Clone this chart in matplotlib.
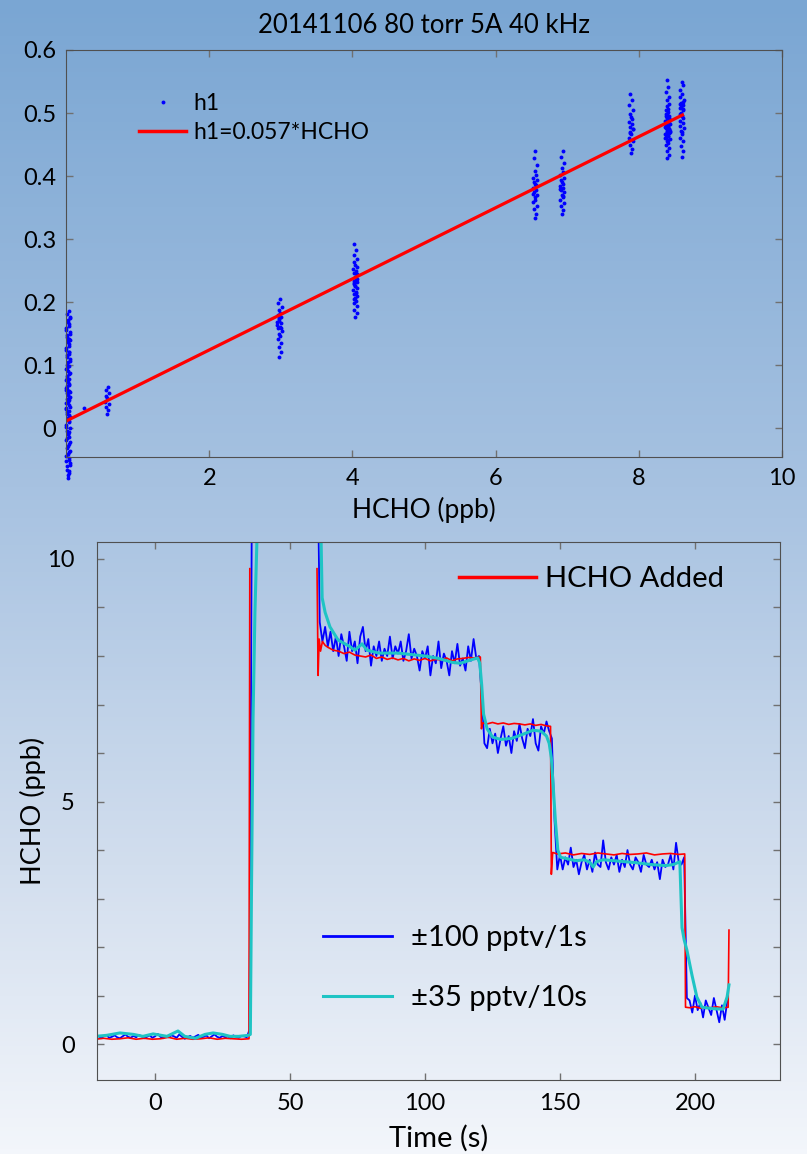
import numpy as np
import matplotlib.pyplot as plt
from matplotlib.colors import LinearSegmentedColormap
from matplotlib.lines import Line2D

plt.rcParams['font.family'] = ['Lato', 'DejaVu Sans']

# ---- top panel: h1 signal vs HCHO, clusters of points ----
jitter = [0.00, 0.03, -0.02, 0.04, -0.04, 0.01, -0.01, 0.05, -0.03, 0.02,
          -0.05, 0.03, 0.00, -0.02, 0.04, -0.04, 0.02, -0.01, 0.05, -0.03,
          0.01, -0.05, 0.03, 0.00, -0.02, 0.04, -0.03, 0.02, -0.04, 0.01]

c0_x = 0.03
c0_y = [-0.079, -0.072, -0.066, -0.058, -0.053, -0.047, -0.041, -0.036, -0.031, -0.025,
        -0.019, -0.014, -0.009, -0.004, 0.000, 0.005, 0.009, 0.014, 0.018, 0.023,
        0.027, 0.032, 0.036, 0.041, 0.046, 0.050, 0.055, 0.059, 0.064, 0.068,
        0.073, 0.078, 0.083, 0.088, 0.093, 0.099, 0.104, 0.110, 0.116, 0.121,
        0.127, 0.133, 0.139, 0.145, 0.150, 0.156, 0.162, 0.168, 0.174, 0.181,
        0.186, 0.060, 0.020, -0.010, 0.100, 0.140, 0.080, -0.050, 0.030, 0.120,
        -0.075, -0.068, -0.061, -0.055, -0.044, -0.038, -0.028, -0.022, -0.016, -0.006,
        0.002, 0.011, 0.016, 0.025, 0.034, 0.039, 0.044, 0.052, 0.057, 0.066,
        0.070, 0.076, 0.085, 0.091, 0.096, 0.107, 0.113, 0.118, 0.124, 0.130,
        0.136, 0.142, 0.148, 0.153, 0.159, 0.165, 0.171, 0.177, 0.062, 0.047]
c1_x = 0.57
c1_y = [0.022, 0.028, 0.033, 0.038, 0.042, 0.047, 0.051, 0.056, 0.061, 0.065]
c2_x = 2.98
c2_y = [0.112, 0.121, 0.128, 0.135, 0.141, 0.146, 0.150, 0.154, 0.158, 0.161,
        0.164, 0.167, 0.170, 0.173, 0.176, 0.179, 0.183, 0.187, 0.192, 0.198,
        0.205, 0.168, 0.158, 0.174]
c3_x = 4.04
c3_y = [0.176, 0.182, 0.188, 0.193, 0.198, 0.202, 0.206, 0.210, 0.213, 0.216,
        0.219, 0.222, 0.225, 0.228, 0.231, 0.234, 0.237, 0.240, 0.243, 0.246,
        0.249, 0.252, 0.255, 0.259, 0.263, 0.268, 0.274, 0.282, 0.292, 0.215,
        0.225, 0.236, 0.205, 0.245, 0.230]
c4_x = 6.55
c4_y = [0.333, 0.340, 0.347, 0.353, 0.358, 0.362, 0.366, 0.370, 0.374, 0.378,
        0.381, 0.384, 0.387, 0.390, 0.393, 0.397, 0.402, 0.408, 0.417, 0.428,
        0.440, 0.372, 0.386]
c5_x = 6.93
c5_y = [0.340, 0.346, 0.352, 0.357, 0.362, 0.366, 0.370, 0.374, 0.378, 0.381,
        0.384, 0.387, 0.390, 0.393, 0.397, 0.401, 0.406, 0.412, 0.420, 0.430,
        0.440, 0.380, 0.368]
c6_x = 7.89
c6_y = [0.436, 0.443, 0.450, 0.456, 0.461, 0.466, 0.470, 0.474, 0.478, 0.482,
        0.486, 0.490, 0.494, 0.499, 0.505, 0.512, 0.520, 0.530, 0.475, 0.468]
c7_x = 8.40
c7_y = [0.428, 0.434, 0.440, 0.445, 0.449, 0.453, 0.456, 0.459, 0.462, 0.464,
        0.466, 0.468, 0.470, 0.472, 0.474, 0.476, 0.478, 0.480, 0.482, 0.484,
        0.486, 0.488, 0.490, 0.492, 0.494, 0.496, 0.498, 0.501, 0.504, 0.507,
        0.511, 0.515, 0.520, 0.526, 0.533, 0.541, 0.553, 0.470, 0.478, 0.485,
        0.460, 0.492, 0.474, 0.466, 0.488, 0.481, 0.457, 0.499, 0.472, 0.483,
        0.463, 0.477, 0.490, 0.468, 0.486, 0.475, 0.495, 0.479]
c8_x = 8.60
c8_y = [0.430, 0.440, 0.448, 0.455, 0.461, 0.466, 0.471, 0.476, 0.480, 0.484,
        0.488, 0.492, 0.496, 0.500, 0.504, 0.508, 0.512, 0.516, 0.520, 0.525,
        0.530, 0.537, 0.545, 0.550, 0.510, 0.518, 0.498, 0.506, 0.514, 0.470]

clusters = [(c0_x, c0_y), (c1_x, c1_y), (c2_x, c2_y), (c3_x, c3_y), (c4_x, c4_y),
            (c5_x, c5_y), (c6_x, c6_y), (c7_x, c7_y), (c8_x, c8_y)]
extra_x = [0.25]
extra_y = [0.032]

fit_x = [0.0, 8.63]
fit_y = [0.011, 0.498]

# ---- bottom panel: time series ----
blue_v = [0.14, 0.17, 0.12, 0.16, 0.19, 0.13, 0.15, 0.18, 0.14, 0.12,
          0.16, 0.20, 0.15, 0.13, 0.17, 0.14, 0.19, 0.16, 0.12, 0.15,
          0.18, 0.13, 0.16, 0.21, 0.15, 0.12, 0.17, 0.14, 0.18, 0.16,
          0.13, 0.20, 0.15, 0.11, 0.14, 0.17, 0.13, 0.16, 0.19, 0.14,
          0.15, 0.18, 0.12, 0.16, 0.20, 0.15, 0.13, 0.17, 0.14, 0.16,
          0.12, 0.18, 0.15, 0.13, 0.17, 0.16, 0.14,
          0.30, 13.0] + [np.nan] * 23 + [
          13.0, 8.7,
          8.3, 8.6, 8.2, 8.5, 8.1, 8.4, 8.0, 8.45, 8.2, 7.9,
          8.5, 8.1, 8.3, 7.85, 8.4, 8.6, 8.1, 8.35, 7.8, 8.2,
          8.0, 8.3, 7.9, 8.15, 8.0, 8.4, 7.95, 8.2, 8.05, 8.3,
          7.9, 8.1, 8.45, 7.95, 8.15, 8.0, 7.7, 8.1, 7.95, 8.2,
          7.6, 8.0, 7.85, 8.3, 7.75, 8.05, 7.9, 7.6, 8.1, 7.85,
          8.25, 7.8, 7.95, 7.7, 8.2, 7.9, 8.35, 7.95, 8.0,
          7.2, 6.2,
          6.1, 6.5, 6.2, 6.4, 6.0, 6.3, 6.55, 6.15, 6.35, 6.0,
          6.45, 6.25, 6.6, 6.3, 6.1, 6.5, 6.35, 6.7, 6.2, 6.05,
          6.55, 6.4, 6.65, 6.45, 6.3,
          4.6, 3.6,
          3.9, 3.6, 3.85, 3.7, 4.05, 3.65, 3.8, 3.5, 3.75, 3.9,
          3.6, 3.8, 3.55, 3.95, 3.7, 3.65, 4.2, 3.75, 3.6, 3.85,
          3.7, 3.9, 3.55, 3.8, 3.65, 4.0, 3.7, 3.6, 3.85, 3.75,
          3.55, 3.9, 3.7, 3.65, 3.8, 3.6, 3.75, 3.4, 3.8, 3.65,
          3.7, 3.9, 3.6, 4.15, 3.75, 3.7, 3.85,
          0.95,
          0.9, 0.65, 1.0, 0.7, 0.85, 0.55, 0.9, 0.75, 0.6, 0.95,
          0.7, 0.45, 0.8, 0.5, 0.9]
blue_t = np.arange(-22, -22 + len(blue_v))

red_t = [-22, -19, -16, -13, -10, -7, -4, -1, 2, 5, 8, 11, 14, 17, 20, 23, 26, 29, 32,
         34.8, 35.1, 35.4,
         59.7, 60.0, 60.4, 60.8, 61.3, 62, 63, 64, 66, 68, 70, 72, 74, 76, 78, 80,
         82, 84, 86, 88, 90, 92, 94, 96, 98, 100, 102, 104, 106, 108, 110, 112,
         114, 116, 118, 120.5,
         120.9, 121.4, 123, 125, 127, 129, 131, 133, 135, 137, 139, 141, 143, 145, 146.5,
         146.8, 147.3, 149, 152, 155, 158, 161, 164, 167, 170, 173, 176, 179, 182,
         185, 188, 191, 194, 196.2,
         196.5, 198, 200, 202, 204, 206, 208, 210, 212.3,
         212.6]
red_v = [0.10, 0.12, 0.10, 0.11, 0.13, 0.10, 0.12, 0.10, 0.11, 0.14, 0.10, 0.12, 0.10,
         0.11, 0.13, 0.10, 0.12, 0.11, 0.10,
         0.11, 9.8, np.nan,
         np.nan, 9.8, 7.6, 8.35, 8.1, 8.3, 8.22, 8.18, 8.12, 8.1, 8.05, 8.08, 8.02,
         8.0, 7.98, 8.02, 7.95, 7.98, 7.93, 7.96, 7.92, 7.95, 7.9, 7.94, 7.91, 7.95,
         7.9, 7.93, 7.92, 7.96, 7.9, 7.94, 7.95, 7.97, 7.96, 7.98,
         6.5, 6.62, 6.6, 6.63, 6.6, 6.62, 6.59, 6.61, 6.6, 6.58, 6.6, 6.57, 6.59,
         6.56, 6.55,
         3.5, 3.95, 3.92, 3.94, 3.9, 3.93, 3.91, 3.94, 3.92, 3.9, 3.93, 3.91, 3.92,
         3.94, 3.9, 3.92, 3.93, 3.91, 3.92,
         0.76, 0.75, 0.77, 0.74, 0.76, 0.75, 0.77, 0.75, 0.76,
         2.35]

cyan_t = [-22, -18, -13, -8, -4.5, -0.7, 4.4, 8.5, 11, 15, 18.5, 21.5, 25, 27.8, 31, 34.5,
          35.3, 35.7, 36.3, 37.0, 37.8, 38.3,
          61.2, 61.5, 61.9, 63.0, 64.8, 67.8, 72, 74, 76.7, 78.5, 83, 90, 95, 100,
          105, 110, 113, 117, 119.5, 120.3, 121.0, 121.7, 123, 125, 128, 132, 136,
          140, 143, 145, 146, 146.8, 147.5, 148.3, 149.2, 150.2, 152, 156, 159,
          161, 162.3, 163.5, 166, 172, 178, 184, 189, 192, 194.4, 195.2, 196,
          197, 198.9, 200.7, 202.6, 206.7, 210.4, 211.9, 212.6]
cyan_v = [0.16, 0.18, 0.23, 0.20, 0.16, 0.21, 0.16, 0.27, 0.16, 0.12, 0.20, 0.23, 0.20, 0.16, 0.16, 0.18,
          0.20, 3.0, 6.7, 8.9, 10.5, 12.0,
          12.0, 10.4, 9.2, 8.9, 8.6, 8.33, 8.2, 8.12, 8.25, 8.12, 8.06, 8.06, 8.03, 8.0,
          7.95, 7.87, 7.85, 7.92, 7.96, 7.85, 7.4, 6.8, 6.5, 6.33, 6.28, 6.3, 6.38,
          6.47, 6.45, 6.35, 6.2, 5.9, 5.3, 4.6, 4.0, 3.85, 3.83, 3.78, 3.8,
          3.75, 3.65, 3.76, 3.8, 3.77, 3.74, 3.7, 3.68, 3.7, 3.76, 2.4, 2.15,
          1.94, 1.42, 0.97, 0.76, 0.73, 0.72, 0.97, 1.22]

# ---- figure ----
fig = plt.figure(figsize=(8.07, 11.54), dpi=100)

bg = fig.add_axes([0, 0, 1, 1], zorder=-10)
grad_cmap = LinearSegmentedColormap.from_list(
    'bg', [(0.0, '#7aa6d3'), (0.45, '#aac4e2'), (0.75, '#d2deee'), (1.0, '#f3f6fb')])
bg.imshow(np.linspace(0, 1, 256)[:, None], aspect='auto', cmap=grad_cmap,
          extent=[0, 1, 0, 1], origin='upper')
bg.axis('off')

spine_col = '#505050'
tick_col = '#707070'

# top
ax1 = fig.add_axes([66 / 807, 1 - 457 / 1154, 716 / 807, 407 / 1154])
ax1.set_facecolor('none')
for x0, ys in clusters:
    xs = [x0 + 0.6 * jitter[i % len(jitter)] for i in range(len(ys))]
    ax1.plot(xs, ys, 'o', color='#0000ff', ms=2.8, mew=0, clip_on=False)
ax1.plot(extra_x, extra_y, 'o', color='#0000ff', ms=2.8, mew=0)
ax1.plot(fit_x, fit_y, color='#ff0000', lw=2.3, solid_capstyle='butt')
ax1.set_xlim(0, 10)
ax1.set_ylim(-0.046, 0.6)
ax1.set_xticks([2, 4, 6, 8, 10])
ax1.set_yticks([0, 0.1, 0.2, 0.3, 0.4, 0.5, 0.6])
ax1.set_yticklabels(['0', '0.1', '0.2', '0.3', '0.4', '0.5', '0.6'])
ax1.tick_params(direction='in', length=5, width=1, color=tick_col, top=True, right=True,
                labelsize=17)
ax1.tick_params(axis='y', pad=7)
ax1.tick_params(axis='x', pad=8)
for s in ax1.spines.values():
    s.set_color(spine_col)
ax1.set_xlabel('HCHO (ppb)', fontsize=19)
ax1.xaxis.set_label_coords(0.5, -0.098)
ax1.set_title('20141106 80 torr 5A 40 kHz', fontsize=18.5, pad=12)
h_top = [Line2D([], [], ls='none', marker='o', color='#0000ff', ms=2.8, mew=0),
         Line2D([], [], color='#ff0000', lw=2.5)]
ax1.legend(h_top, ['h1', 'h1=0.057*HCHO'], loc='upper left', bbox_to_anchor=(0.102, 0.895),
           frameon=False, fontsize=16.5, handlelength=2.05, handletextpad=0.34,
           labelspacing=0.38, borderpad=0, borderaxespad=0)

# bottom
ax2 = fig.add_axes([97 / 807, 1 - 1080 / 1154, 683 / 807, 538 / 1154])
ax2.set_facecolor('none')
ax2.plot(blue_t, blue_v, color='#0000ff', lw=1.3)
ax2.plot(red_t, red_v, color='#ff0000', lw=1.2)
ax2.plot(cyan_t, cyan_v, color='#1fc4c4', lw=2.2)
ax2.set_xlim(-21.5, 231.5)
ax2.set_ylim(-0.74, 10.35)
ax2.set_xticks([0, 50, 100, 150, 200])
ax2.set_yticks([0, 5, 10])
ax2.set_yticks(range(0, 11), minor=True)
ax2.tick_params(which='both', direction='in', length=5, width=1, color=tick_col,
                top=True, right=True, labelsize=17)
ax2.tick_params(axis='y', pad=16)
ax2.tick_params(axis='x', pad=9)
for s in ax2.spines.values():
    s.set_color(spine_col)
ax2.set_xlabel('Time (s)', fontsize=21)
ax2.xaxis.set_label_coords(0.5, -0.083)
ax2.set_ylabel('HCHO (ppb)', fontsize=19.5)
ax2.yaxis.set_label_coords(-0.075, 0.5)

h_red = [Line2D([], [], color='#ff0000', lw=2.5)]
leg1 = ax2.legend(h_red, ['HCHO Added'], loc='center left', bbox_to_anchor=(0.530, 0.931),
                  frameon=False, fontsize=21, handlelength=2.65, handletextpad=0.3,
                  borderpad=0, borderaxespad=0)
ax2.add_artist(leg1)
h_bc = [Line2D([], [], color='#0000ff', lw=2.0), Line2D([], [], color='#1fc4c4', lw=2.2)]
ax2.legend(h_bc, ['±100 pptv/1s', '±35 pptv/10s'], loc='upper left',
           bbox_to_anchor=(0.331, 0.288), frameon=False, fontsize=21, handlelength=2.35,
           handletextpad=0.65, labelspacing=1.17, borderpad=0, borderaxespad=0)

fig.savefig('out.png', dpi=100)
